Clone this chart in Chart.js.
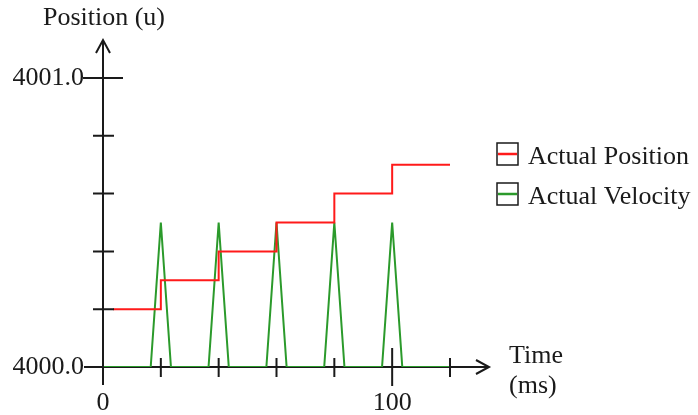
<!DOCTYPE html>
<html>
<head>
<meta charset="utf-8">
<script src="https://cdn.jsdelivr.net/npm/chart.js@4"></script>
<style>
  html, body { margin: 0; padding: 0; background: #ffffff; }
  #wrap { width: 698px; height: 415px; }
</style>
</head>
<body>
<div id="wrap"><canvas id="c" width="698" height="415"></canvas></div>
<script>
// Actual position (step trace) in u, sampled against time in ms
const positionTimes  = [3.5, 20, 40, 60, 80, 100, 120];
const positionValues = [4000.2, 4000.3, 4000.4, 4000.5, 4000.6, 4000.7, 4000.7];

// Actual velocity pulses, plotted on the same axis
const velocityTimes  = [0, 16.5, 20, 23.5, 36.5, 40, 43.5, 56.5, 60, 63.5, 76.5, 80, 83.5, 96.5, 100, 103.5, 120];
const velocityValues = [4000, 4000, 4000.5, 4000, 4000, 4000.5, 4000, 4000, 4000.5, 4000, 4000, 4000.5, 4000, 4000, 4000.5, 4000, 4000];

// Axis ticks: all tick positions, and the labelled ones
const xTicks = [0, 20, 40, 60, 80, 100, 120];
const xLabels = [0, 100];
const yTicks = [4000.0, 4000.2, 4000.4, 4000.6, 4000.8, 4001.0];
const yLabels = [4000.0, 4001.0];

const seriesNames = ['Actual Position', 'Actual Velocity'];
const seriesColors = ['#ff1a1a', '#2b9a2b'];

const FONT = '26px "Liberation Serif", "Times New Roman", serif';
const INK = '#1a1a1a';

const toPoints = (xs, ys) => xs.map((x, i) => ({ x: x, y: ys[i] }));

function axisGeometry(chart) {
  const xs = chart.scales.x, ys = chart.scales.y;
  return {
    xs, ys,
    x0: xs.getPixelForValue(0),
    y0: ys.getPixelForValue(4000),
    yTop: ys.getPixelForValue(4001) - 38,
    xEnd: xs.getPixelForValue(120) + 39
  };
}

const axesPlugin = {
  id: 'sketchAxes',
  // axis lines sit underneath the traces
  beforeDatasetsDraw(chart) {
    const ctx = chart.ctx;
    const { x0, y0, yTop, xEnd } = axisGeometry(chart);
    ctx.save();
    ctx.strokeStyle = INK;
    ctx.lineWidth = 2;
    ctx.beginPath();
    ctx.moveTo(x0, yTop);
    ctx.lineTo(x0, y0 + 18);
    ctx.moveTo(x0, y0);
    ctx.lineTo(xEnd, y0);
    ctx.stroke();

    // open arrowheads
    ctx.beginPath();
    ctx.moveTo(x0 - 7, yTop + 13);
    ctx.lineTo(x0, yTop);
    ctx.lineTo(x0 + 7, yTop + 13);
    ctx.moveTo(xEnd - 13, y0 - 7);
    ctx.lineTo(xEnd, y0);
    ctx.lineTo(xEnd - 13, y0 + 7);
    ctx.stroke();
    ctx.restore();
  },
  // ticks, labels and legend go on top
  afterDatasetsDraw(chart) {
    const ctx = chart.ctx;
    const { xs, ys, x0, y0, xEnd } = axisGeometry(chart);

    ctx.save();
    ctx.strokeStyle = INK;
    ctx.lineWidth = 2;

    ctx.beginPath();
    xTicks.forEach(t => {
      const px = xs.getPixelForValue(t);
      if (t === 0) return;
      const major = xLabels.includes(t);
      ctx.moveTo(px, y0 - (major ? 19 : 9));
      ctx.lineTo(px, y0 + (major ? 19 : 10));
    });
    yTicks.forEach(v => {
      const py = ys.getPixelForValue(v);
      const major = yLabels.includes(v);
      if (v === 4000) {
        ctx.moveTo(x0 - 19, py);
        ctx.lineTo(x0 + 1, py);
        return;
      }
      ctx.moveTo(x0 - (major ? 20 : 10), py);
      ctx.lineTo(x0 + (major ? 20 : 11), py);
    });
    ctx.stroke();

    // tick labels
    ctx.fillStyle = INK;
    ctx.font = FONT;
    ctx.textAlign = 'right';
    ctx.textBaseline = 'alphabetic';
    yLabels.forEach(v => {
      const py = ys.getPixelForValue(v);
      ctx.fillText(v.toFixed(1), x0 - 19, py + 7);
    });
    ctx.textAlign = 'center';
    xLabels.forEach(t => {
      ctx.fillText(String(t), xs.getPixelForValue(t), y0 + 43);
    });

    // axis titles
    ctx.fillText('Position (u)', x0 + 1, 25);
    ctx.textAlign = 'left';
    ctx.fillText('Time', xEnd + 20, y0 - 4);
    ctx.fillText('(ms)', xEnd + 20, y0 + 26);

    // legend
    const lx = 497, boxW = 21, boxH = 22;
    const rows = [143, 183];
    seriesNames.forEach((name, i) => {
      const top = rows[i];
      ctx.strokeStyle = INK;
      ctx.lineWidth = 1.5;
      ctx.strokeRect(lx, top, boxW, boxH);
      ctx.strokeStyle = seriesColors[i];
      ctx.lineWidth = 2.5;
      ctx.beginPath();
      ctx.moveTo(lx + 1, top + boxH / 2);
      ctx.lineTo(lx + boxW - 1, top + boxH / 2);
      ctx.stroke();
      ctx.fillStyle = INK;
      ctx.textAlign = 'left';
      ctx.fillText(name, lx + 31, top + 21);
    });
    ctx.restore();
  }
};

new Chart(document.getElementById('c'), {
  type: 'line',
  data: {
    datasets: [
      {
        label: seriesNames[0],
        data: toPoints(positionTimes, positionValues),
        borderColor: seriesColors[0],
        borderWidth: 2,
        stepped: 'before',
        pointRadius: 0,
        fill: false,
        order: 0
      },
      {
        label: seriesNames[1],
        data: toPoints(velocityTimes, velocityValues),
        borderColor: seriesColors[1],
        borderWidth: 2,
        tension: 0,
        pointRadius: 0,
        fill: false,
        order: 1
      }
    ]
  },
  options: {
    responsive: false,
    animation: false,
    events: [],
    layout: { padding: { left: 103, right: 248, top: 78, bottom: 48 } },
    plugins: { legend: { display: false }, tooltip: { enabled: false } },
    scales: {
      x: { type: 'linear', min: 0, max: 120, display: false },
      y: { type: 'linear', min: 4000, max: 4001, display: false }
    }
  },
  plugins: [axesPlugin]
});
</script>
</body>
</html>
